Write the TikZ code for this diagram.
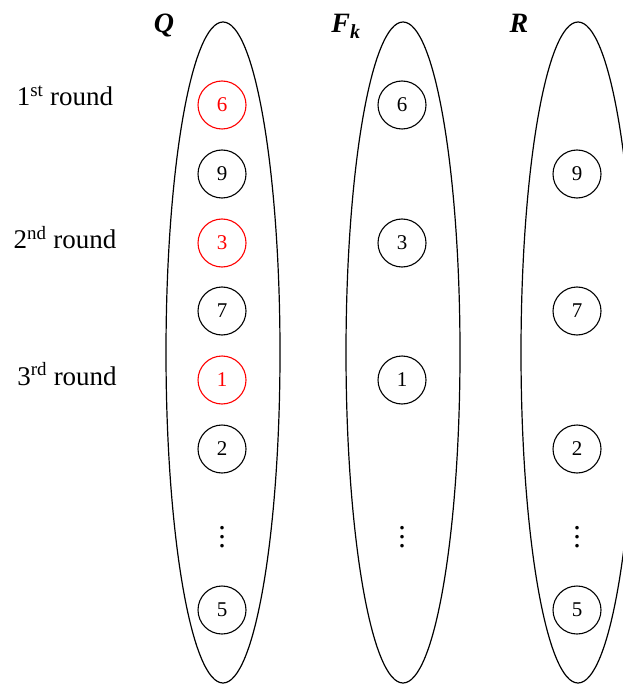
\documentclass[tikz,border=0pt]{standalone}
\usepackage{fontspec}
\setmainfont{Liberation Serif}
\usetikzlibrary{shapes.geometric}
\newcommand{\stackdots}{\vbox{\baselineskip9pt\lineskiplimit0pt\lineskip0pt\hbox{.}\hbox{.}\hbox{.}}}
\begin{document}
\begin{tikzpicture}[x=1pt,y=-1pt,
  setell/.style={ellipse, draw, line width=1.2pt, minimum width=114pt, minimum height=661pt, inner sep=0pt},
  elem/.style={circle, draw, line width=1.1pt, minimum size=48pt, inner sep=0pt, font=\fontsize{21}{24}\selectfont},
  hot/.style={elem, red},
  roundlbl/.style={font=\fontsize{27}{30}\selectfont, anchor=base},
  title/.style={font=\fontsize{28}{32}\selectfont\bfseries\itshape, anchor=base},
  dotsn/.style={font=\fontsize{30}{30}\selectfont, inner sep=0pt}]
\useasboundingbox (0,0) rectangle (622,684);
% sets
\node[setell] (Qset) at (223,352.5) {};
\node[setell] (Fset) at (403,352.5) {};
\node[setell] (Rset) at (578,352.5) {};
% titles
\node[title] (tQ) at (164,33) {Q};
\node[title] (tF) at (346,33) {F\textsubscript{\fontsize{20}{22}\selectfont k}};
\node[title] (tR) at (519,33) {R};
% round labels
\node[roundlbl] (r1) at (65,106) {1\textsuperscript{st} round};
\node[roundlbl] (r2) at (65,249) {2\textsuperscript{nd} round};
\node[roundlbl] (r3) at (67,385) {3\textsuperscript{rd} round};
% Q column
\node[hot] (q6) at (222,105) {6};
\node[elem] (q9) at (222,174) {9};
\node[hot] (q3) at (222,243) {3};
\node[elem] (q7) at (222,311) {7};
\node[hot] (q1) at (222,380) {1};
\node[elem] (q2) at (222,449) {2};
\node[dotsn] (qd) at (222,537) {\stackdots};
\node[elem] (q5) at (222,610) {5};
% F column
\node[elem] (f6) at (402,105) {6};
\node[elem] (f3) at (402,243) {3};
\node[elem] (f1) at (402,380) {1};
\node[dotsn] (fd) at (402,537) {\stackdots};
% R column
\node[elem] (r9) at (577,174) {9};
\node[elem] (r7) at (577,311) {7};
\node[elem] (rr2) at (577,449) {2};
\node[dotsn] (rd) at (577,537) {\stackdots};
\node[elem] (r5) at (577,610) {5};
\end{tikzpicture}
\end{document}
